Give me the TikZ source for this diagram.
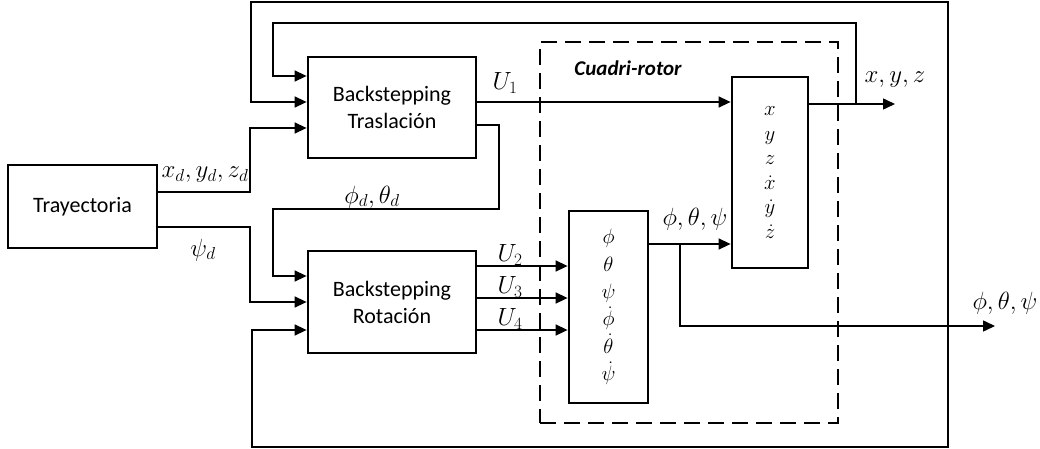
\documentclass[tikz,border=0pt]{standalone}
\usepackage{fontspec}
\setmainfont{Carlito}
\usetikzlibrary{arrows.meta,positioning}
\tikzset{
  block/.style={rectangle, draw=black, line width=2.8pt, fill=white, align=center,
                inner sep=0pt, font=\fontsize{22}{27}\selectfont},
  dashbox/.style={rectangle, draw=black, line width=2.8pt, dash pattern=on 16pt off 8pt},
  arrow/.style={-{Triangle[length=12pt,width=11pt]}, line width=1.5pt},
  label/.style={inner sep=0pt, font=\fontsize{23}{27}\selectfont},
}
\begin{document}
\begin{tikzpicture}[x=1pt, y=-1pt]
\useasboundingbox (0,0) rectangle (1040,449);
% quadrotor
\node[dashbox, minimum width=298pt, minimum height=381pt] (quad) at (689,232.5) {};
\node[label, font=\fontsize{21}{24}\selectfont\bfseries\itshape] (quadlbl) at (628,68) {Cuadri-rotor};
% blocks
\node[block, minimum width=149pt, minimum height=83pt] (tray) at (82.5,206.5) {Trayectoria};
\node[block, minimum width=168pt, minimum height=101pt] (bt) at (392,107.5) {Backstepping\\Traslación};
\node[block, minimum width=168pt, minimum height=102pt] (br) at (392,302) {Backstepping\\Rotación};
\node[block, minimum width=79pt, minimum height=192pt, font=\fontsize{21}{27.4}\selectfont] (rot) at (608.5,307)
  {$\phi$\\$\theta$\\$\psi$\\$\dot\phi$\\$\dot\theta$\\$\dot\psi$};
\node[block, minimum width=76pt, minimum height=191pt, font=\fontsize{21}{24.6}\selectfont] (pos) at (770,172.5)
  {$x$\\$y$\\$z$\\$\dot x$\\$\dot y$\\$\dot z$};
% junctions and free ends
\coordinate (jxyz) at (856,104);
\coordinate (xyzend) at (895,104);
\coordinate (jang) at (680,244);
\coordinate (jfb) at (948,326);
\coordinate (angend) at (995,326);
% references
\draw[arrow] (tray.east |- 0,192) -| (250,128) -- (bt.west |- 0,128);
\draw[arrow] (tray.east |- 0,227) -| (250,302) -- (br.west |- 0,302);
% controller outputs
\draw[arrow] (bt.east |- 0,102) -- (pos.west |- 0,102);
\draw[arrow] (bt.east |- 0,125) -| (499,209) -| (273,276) -- (br.west |- 0,276);
\foreach \y/\u in {266/2, 298/3, 330/4}{
  \draw[arrow] (br.east |- 0,\y) -- (rot.west |- 0,\y);
  \node[label] (u\u) at (510,\y-11) {$U_\u$};
}
% states
\draw[arrow] (rot.east |- jang) -- (pos.west |- jang);
\draw[arrow] (jang) |- (angend);
\draw[arrow] (pos.east |- jxyz) -- (xyzend);
% feedback
\draw[arrow] (jxyz) |- (273,23) |- (bt.west |- 0,76);
\draw[arrow] (jfb) |- (251,2) |- (bt.west |- 0,102);
\draw[arrow] (jfb) |- (252,447) |- (br.west |- 0,330);
% labels
\node[label] (xdlbl) at (205,175) {$x_d,y_d,z_d$};
\node[label] (psidlbl) at (203,250) {$\psi_d$};
\node[label] (u1) at (505,83) {$U_1$};
\node[label] (angdlbl) at (372,197) {$\phi_d,\theta_d$};
\node[label] (anglbl) at (695,219) {$\phi,\theta,\psi$};
\node[label] (angoutlbl) at (1005,303) {$\phi,\theta,\psi$};
\node[label] (xyzlbl) at (895,80) {$x,y,z$};
\end{tikzpicture}
\end{document}
